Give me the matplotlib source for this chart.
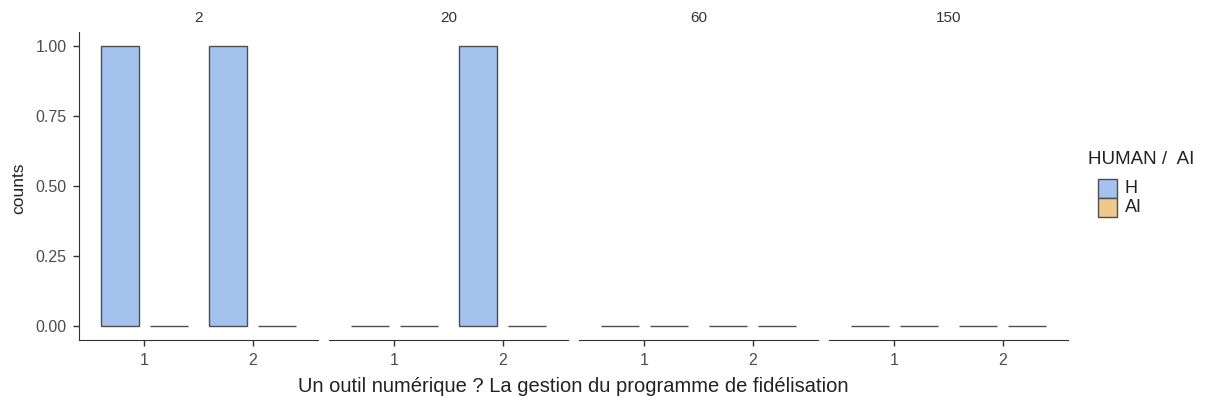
import matplotlib
matplotlib.use("Agg")
import matplotlib.pyplot as plt
import numpy as np
from matplotlib.patches import Rectangle

plt.rcParams['font.family'] = ['Liberation Sans', 'DejaVu Sans']

facets = ["2", "20", "60", "150"]
categories = ["1", "2"]
groups = ["H", "AI"]
# counts per facet, per category
h_counts = [[1, 1], [0, 1], [0, 0], [0, 0]]
ai_counts = [[0, 0], [0, 0], [0, 0], [0, 0]]
colors = {"H": "#A4C2EE", "AI": "#EDC98B"}
edge = "#4D4D4D"

fig = plt.figure(figsize=(12.23, 4.08), dpi=100)
W, H = 1223, 408
left0 = 79
pw = 239
gap = 11
top = 32
bottom = 340

def fx(px):
    return px / W

def fy(py):
    return 1 - py / H

for i, f in enumerate(facets):
    l = left0 + i * (pw + gap)
    ax = fig.add_axes([l / W, (H - bottom) / H, pw / W, (bottom - top) / H])
    x = np.arange(1, len(categories) + 1)
    bw = 0.35
    ax.bar(x - 0.225, h_counts[i], width=bw, color=colors["H"], edgecolor=edge, linewidth=1.0)
    ax.bar(x + 0.225, ai_counts[i], width=bw, color=colors["AI"], edgecolor=edge, linewidth=1.0)
    ax.set_xlim(0.4, 2.6)
    ax.set_ylim(-0.05, 1.05)
    ax.set_xticks(x)
    ax.set_xticklabels(categories)
    for s in ["top", "right"]:
        ax.spines[s].set_visible(False)
    ax.spines["bottom"].set_color("#333333")
    ax.spines["left"].set_color("#333333")
    ax.tick_params(axis="both", colors="#333333", labelcolor="#4D4D4D", labelsize=11.5,
                   length=4, width=1)
    ax.tick_params(axis="x", pad=5.5)
    ax.tick_params(axis="y", pad=5)
    if i == 0:
        ax.set_yticks([0, 0.25, 0.5, 0.75, 1.0])
        ax.set_yticklabels(["0.00", "0.25", "0.50", "0.75", "1.00"])
    else:
        ax.spines["left"].set_visible(False)
        ax.set_yticks([])
    ax.text(0.5, 1.0 + 14 / (bottom - top), f, transform=ax.transAxes, ha="center", va="center",
            fontsize=11, color="#333333")

fig.text(fx(19), fy(188), "counts", rotation=90, ha="center", va="center",
         fontsize=12.5, color="#222222")

fig.text(fx(left0 + (4 * pw + 3 * gap) / 2), fy(386),
         "Un outil numérique ? La gestion du programme de fidélisation",
         ha="center", va="center", fontsize=14.5, color="#222222")

# legend (drawn manually)
fig.text(fx(1088), fy(160), "HUMAN /  AI", ha="left", va="center", fontsize=13.5, color="#222222")
key_top = 179
key_h = 19
for j, g in enumerate(groups):
    y0 = key_top + j * key_h
    fig.add_artist(Rectangle((fx(1098), fy(y0 + key_h)), 19 / W, key_h / H,
                             transform=fig.transFigure, facecolor=colors[g],
                             edgecolor=edge, linewidth=1.0))
    fig.text(fx(1125), fy(y0 + key_h / 2), g, ha="left", va="center",
             fontsize=13, color="#222222")

fig.savefig("out.png", dpi=100)
